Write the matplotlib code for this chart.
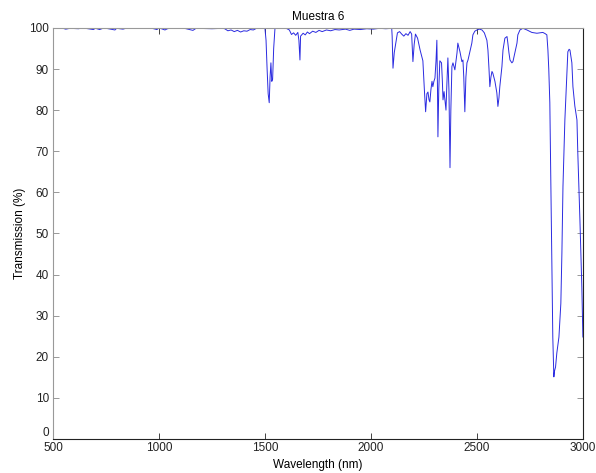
import matplotlib
matplotlib.use("Agg")
import matplotlib.pyplot as plt

plt.rcParams['font.family'] = ['Liberation Sans', 'DejaVu Sans']

# spectrum (wavelength nm, transmission %)
wavelength = [
    500, 540, 560, 580, 620, 640, 690, 700, 720, 740, 792, 800, 830, 850,
    960, 990, 1000, 1028, 1040, 1060, 1120, 1160, 1175, 1250, 1300,
    1310, 1325, 1340, 1355, 1370, 1385, 1400, 1415, 1430, 1445, 1460, 1495,
    1500, 1505, 1510, 1515, 1520, 1524, 1528, 1532, 1536, 1541, 1547, 1560,
    1600, 1615, 1625, 1635, 1645, 1655, 1660, 1665, 1668, 1680, 1690, 1700,
    1710, 1725, 1740, 1755, 1770, 1790, 1810, 1830, 1850, 1880, 1900, 1920,
    1950, 1980, 2010, 2040, 2070, 2098,
    2100, 2104, 2110, 2118, 2125, 2135, 2145, 2155, 2165, 2175, 2185, 2192,
    2198, 2204, 2210, 2220, 2232, 2245, 2252, 2258, 2264, 2269, 2274, 2278,
    2283, 2288, 2292, 2297, 2302, 2307, 2311, 2314, 2316, 2320, 2325, 2333,
    2337, 2340, 2345, 2350, 2354, 2358, 2363, 2368, 2373, 2377, 2382, 2387,
    2396, 2406, 2410, 2420, 2429, 2434, 2438, 2443, 2448, 2453, 2458, 2467,
    2476, 2481, 2490, 2500, 2512, 2524, 2535, 2547, 2552, 2557, 2561, 2566,
    2571, 2575, 2580, 2585, 2594, 2599, 2604, 2608, 2618, 2623, 2632, 2642,
    2646, 2651, 2656, 2665, 2670, 2679, 2689, 2693, 2703, 2717, 2736, 2748,
    2759, 2771, 2783, 2797, 2811, 2822, 2830, 2835, 2839, 2844, 2849, 2854,
    2858, 2863, 2866, 2871, 2877, 2887, 2896, 2901, 2906, 2915, 2925, 2929,
    2935, 2939, 2948, 2953, 2962, 2972, 2976, 2986, 2995, 3000,
]
transmission = [
    99.9, 100, 99.7, 99.9, 99.8, 100, 99.6, 99.9, 99.6, 100, 99.5, 99.9, 99.7, 100,
    100, 99.6, 100, 99.5, 99.8, 100, 99.9, 99.4, 99.9, 99.8, 99.9,
    99.8, 99.3, 99.5, 99.1, 99.4, 99.0, 99.3, 99.2, 99.6, 99.5, 99.9, 100,
    99.8, 97, 90, 84, 81.8, 88, 91.5, 87, 87.5, 95, 99.8, 100,
    99.9, 99.5, 98.4, 98.8, 98.2, 98.9, 97, 92.2, 98, 98.7, 98.3, 99.0,
    98.6, 99.2, 98.9, 99.4, 99.1, 99.5, 99.3, 99.6, 99.5, 99.7, 99.4, 99.7,
    99.6, 99.8, 99.7, 99.9, 99.8, 99.9,
    98, 90.2, 94, 96.5, 98.8, 99.1, 98.5, 98.0, 98.6, 98.2, 99.1, 98.5,
    91.8, 96, 98.5, 97.5, 94.6, 92, 85, 79.6, 84, 84.4, 82.5, 82,
    85, 87, 85.7, 87.0, 87.8, 92, 97, 85, 73.5, 85, 92, 91.5,
    87, 82.5, 84.5, 82, 80, 86, 92.7, 85, 66, 80, 90.6, 91.5,
    89.8, 93.9, 96.3, 94.2, 91.8, 92.2, 88, 79.6, 88, 91.5, 92.2, 94.2,
    96.3, 98.3, 99.2, 99.5, 99.7, 99.5, 98.8, 97, 94.6, 90, 85.7, 88,
    89.4, 89, 88, 87, 84.2, 80.9, 83, 85.7, 90.6, 94.6, 97.5, 97.9,
    96.3, 94, 92.2, 91.5, 91.8, 93.9, 96.3, 98.3, 99.5, 99.9, 99.5, 99.2,
    98.9, 98.8, 98.7, 98.8, 98.9, 98.6, 98.3, 94.6, 90, 81.8, 61.4, 39.4,
    24.8, 15.1, 16.5, 17.5, 20.9, 24.8, 33, 45.3, 61.4, 77.6, 89.8, 94.2,
    94.8, 94.6, 91.5, 85.7, 81, 77.6, 69.6, 53.3, 37, 24.8,
]
x_ticks = [500, 1000, 1500, 2000, 2500, 3000]
y_ticks = [0, 10, 20, 30, 40, 50, 60, 70, 80, 90, 100]

fig = plt.figure(figsize=(5.96, 4.73), dpi=100)
ax = fig.add_axes([0.089, 0.072, 0.889, 0.869])
ax.plot(wavelength, transmission, color='#2a2ae0', lw=0.7)

ax.set_xlim(500, 3000)
ax.set_ylim(0, 100)
ax.set_xticks(x_ticks)
ax.set_yticks(y_ticks)
ax.tick_params(direction='in', length=4, width=0.6, labelsize=8.5,
               top=True, right=True, colors='#222222', pad=2)
ax.tick_params(axis='y', colors='#888888', labelcolor='#222222', pad=3)
# MATLAB puts the 0 label just above the corner
ax.get_yticklabels()[0].set_verticalalignment('bottom')
for side in ['left', 'top']:
    ax.spines[side].set_color('#999999')
for side in ['bottom', 'right']:
    ax.spines[side].set_color('#222222')
for s in ax.spines.values():
    s.set_linewidth(0.8)

ax.set_title("Muestra 6", fontsize=8.5, pad=6)
ax.set_xlabel("Wavelength (nm)", fontsize=8.5, labelpad=4)
ax.set_ylabel("Transmission (%)", fontsize=8.5, labelpad=2)

fig.savefig("out.png", dpi=100)
